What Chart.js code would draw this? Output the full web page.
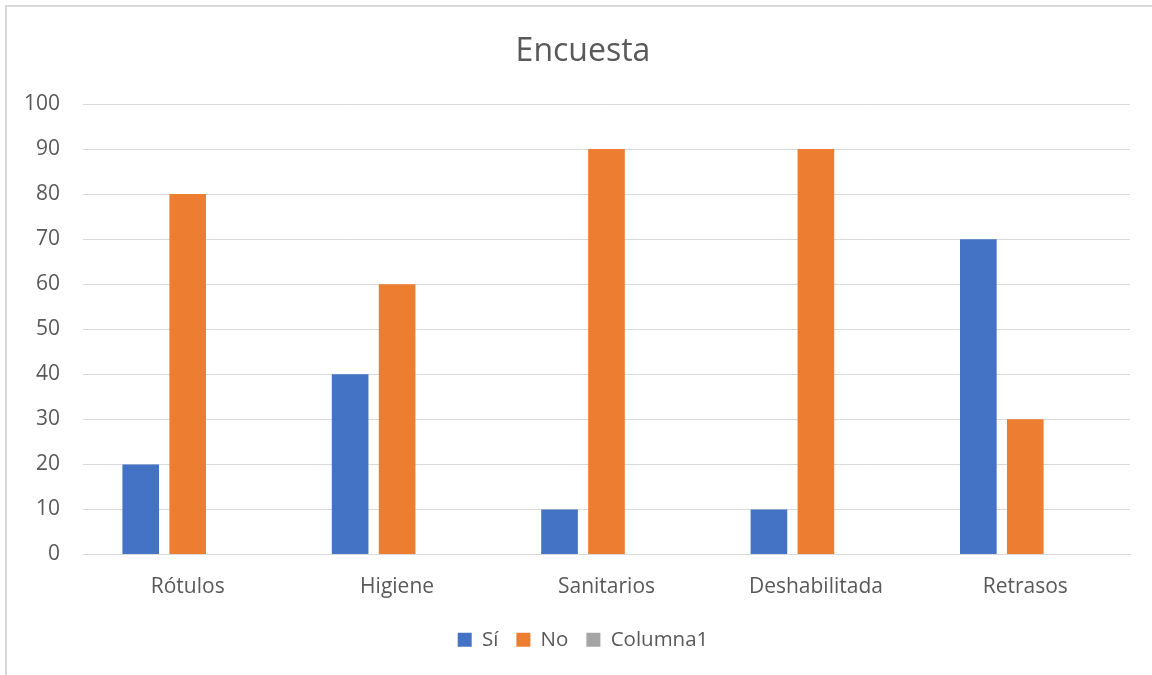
<!DOCTYPE html>
<html>
<head>
<meta charset="utf-8">
<script src="https://cdn.jsdelivr.net/npm/chart.js@4.4.1/dist/chart.umd.min.js"></script>
<style>
  html, body { margin: 0; padding: 0; background: #fff; overflow: hidden; width: 1152px; height: 675px; }
  #wrap { position: absolute; left: 5px; top: 5px; border: 2px solid #d9d9d9; width: 1152px; height: 680px; background: #fff; }
  canvas { display: block; }
</style>
</head>
<body>
<div id="wrap"><canvas id="c" width="1152" height="680"></canvas></div>
<script>
const titleText = 'Encuesta';
const categories = ['Rótulos', 'Higiene', 'Sanitarios', 'Deshabilitada', 'Retrasos'];
const siValues = [20, 40, 10, 10, 70];
const noValues = [80, 60, 90, 90, 30];
const columna1Values = [null, null, null, null, null];
const seriesNames = ['Sí', 'No', 'Columna1'];
const yMin = 0, yMax = 100, yStep = 10;

const textColor = '#595959';
const fontFamily = "'Open Sans', 'Noto Sans', sans-serif";

Chart.defaults.font.family = fontFamily;
Chart.defaults.color = textColor;

new Chart(document.getElementById('c'), {
  type: 'bar',
  data: {
    labels: categories,
    datasets: [
      { label: seriesNames[0], data: siValues, backgroundColor: '#4472C4' },
      { label: seriesNames[1], data: noValues, backgroundColor: '#ED7D31' },
      { label: seriesNames[2], data: columna1Values, backgroundColor: '#A5A5A5' }
    ]
  },
  options: {
    responsive: false,
    animation: false,
    datasets: { bar: { categoryPercentage: 0.673, barPercentage: 0.78 } },
    layout: { padding: { left: 29, right: 29, top: 0, bottom: 27 } },
    plugins: {
      title: {
        display: true, text: titleText, color: textColor,
        font: { size: 32, weight: 'normal', family: fontFamily },
        padding: { top: 26, bottom: 32.6 }
      },
      legend: {
        position: 'bottom',
        labels: {
          boxWidth: 14, boxHeight: 14, padding: 18, color: textColor,
          font: { size: 20.5, family: fontFamily }
        }
      },
      tooltip: { enabled: false }
    },
    scales: {
      x: {
        grid: { display: false, drawTicks: false },
        border: { display: true, color: '#d9d9d9' },
        ticks: { padding: 20, color: textColor, font: { size: 21 } },
        afterFit: (s) => { s.height = 57; }
      },
      y: {
        min: yMin, max: yMax,
        grid: { color: '#d9d9d9', drawTicks: false },
        border: { display: false },
        ticks: { stepSize: yStep, padding: 23, color: textColor, font: { size: 21 } },
        afterFit: (s) => {
          s.width = 47;
          // let the tick labels extend left of the narrow axis box without clipping
          s._computeLabelArea = () => undefined;
        }
      }
    }
  }
});
</script>
</body>
</html>
